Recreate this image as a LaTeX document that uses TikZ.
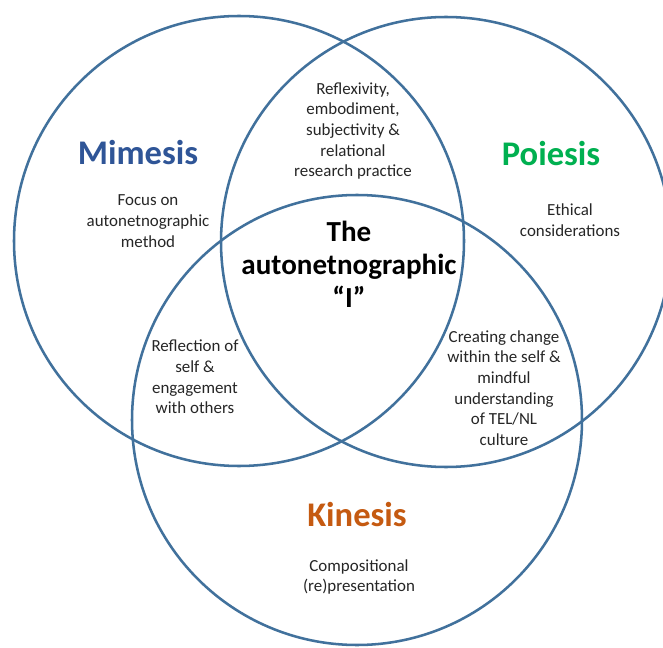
\documentclass[tikz,border=0pt]{standalone}
\usepackage{fontspec}
\setmainfont{Carlito}
\definecolor{ringblue}{HTML}{41719C}
\definecolor{mimblue}{HTML}{2F5597}
\definecolor{poigreen}{HTML}{00B050}
\definecolor{kinorange}{HTML}{C55A11}
\definecolor{bodytext}{HTML}{262626}
\begin{document}
\begin{tikzpicture}[x=0.75pt,y=-0.75pt,
  ring/.style={draw=ringblue,line width=1.9pt},
  title/.style={font=\fontsize{25.9}{30}\selectfont\bfseries,inner sep=0pt},
  body/.style={font=\fontsize{12.7}{15.5}\selectfont,text=bodytext,align=center,inner sep=0pt},
  core/.style={font=\fontsize{21.8}{24.75}\selectfont\bfseries,align=center,inner sep=0pt}]
\useasboundingbox[fill=white] (0,0) rectangle (663,648);
\clip (0,0) rectangle (663,648);
\draw[ring] (239,241) circle[radius=168.75pt];
\draw[ring] (446,242) circle[radius=168.75pt];
\draw[ring] (357,420) circle[radius=168.75pt];
\node[title,text=mimblue] (mimesis) at (138,153) {Mimesis};
\node[title,text=poigreen] (poiesis) at (551,154) {Poiesis};
\node[title,text=kinorange] (kinesis) at (357,515) {Kinesis};
\node[body] (focus) at (148,221) {Focus on\\autonetnographic\\method};
\node[body] (ethical) at (570,220) {Ethical\\considerations};
\node[body] (reflex) at (353,131) {Reflexivity,\\embodiment,\\subjectivity \&\\relational\\research practice};
\node[core] (self) at (349,264) {The\\autonetnographic\\“I”};
\node[body] (reflection) at (195,377) {Reflection of\\self \&\\engagement\\with others};
\node[body] (creating) at (504,388) {Creating change\\within the self \&\\mindful\\understanding\\of TEL/NL\\culture};
\node[body] (comp) at (359,577) {Compositional\\(re)presentation};
\end{tikzpicture}
\end{document}
